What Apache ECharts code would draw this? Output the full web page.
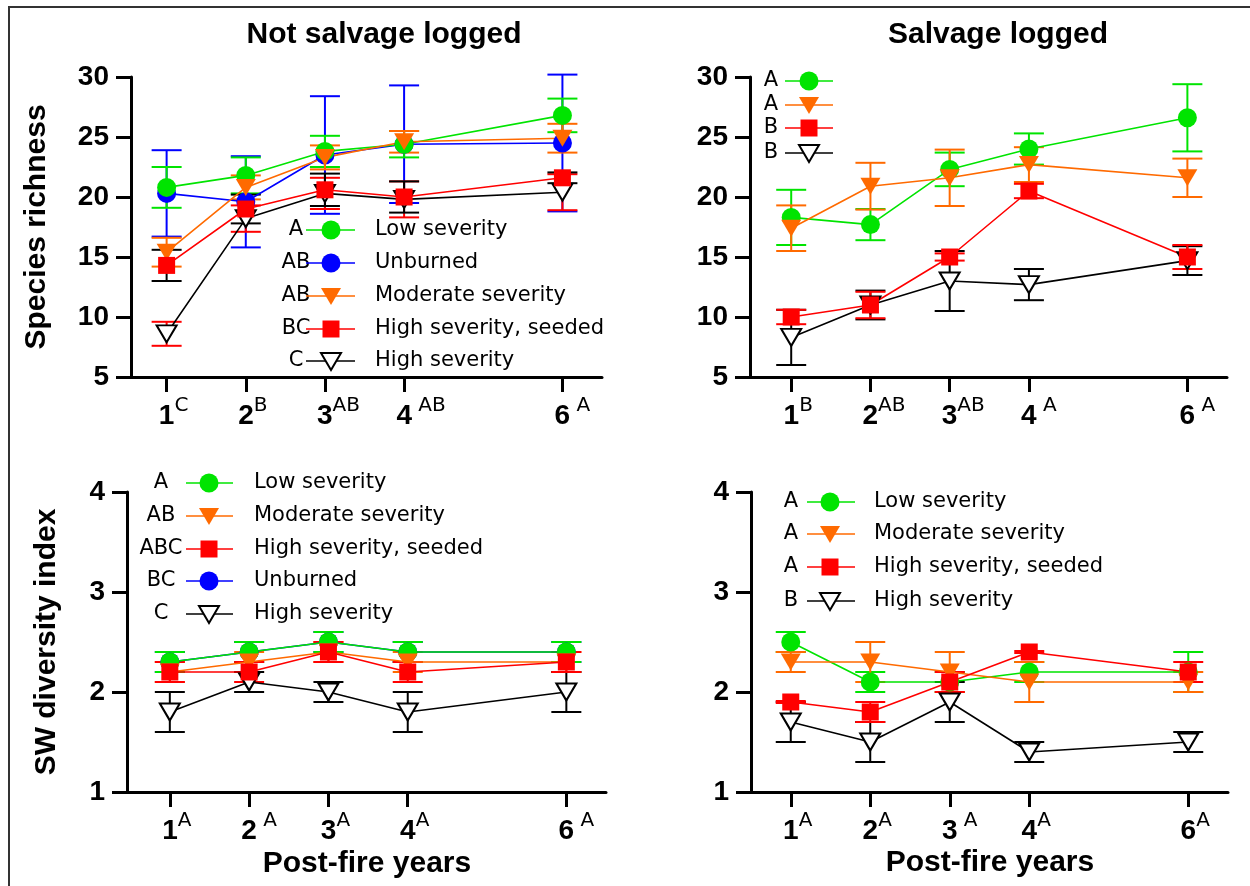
<!DOCTYPE html>
<html>
<head>
<meta charset="utf-8">
<script src="https://cdn.jsdelivr.net/npm/echarts@6/dist/echarts.min.js"></script>
<style>html,body{margin:0;padding:0;background:#fff}#c{width:1250px;height:886px}</style>
</head>
<body>
<div id="c"></div>
<script>
// ---------- data ----------
const years = [1, 2, 3, 4, 6];

// Top-left: Species richness, not salvage logged
const tlSup = ['C', 'B', 'AB', ' AB', ' A'];
const tlLowMean = [20.8, 21.8, 23.8, 24.4, 26.8];
const tlLowErr  = [1.7, 1.5, 1.3, 1.1, 1.4];
const tlUnbMean = [20.3, 19.6, 23.5, 24.4, 24.5];
const tlUnbErr  = [3.6, 3.8, 4.9, 4.9, 5.7];
const tlModMean = [15.4, 20.8, 23.3, 24.6, 24.9];
const tlModErr  = [1.2, 1.0, 1.0, 0.9, 1.2];
const tlSeedMean = [14.3, 19.0, 20.6, 20.0, 21.6];
const tlSeedErr  = [1.3, 1.2, 1.35, 1.3, 0.45];
const tlHighMean = [8.6, 18.2, 20.3, 19.8, 20.4];
const tlHighErr  = [1.0, 1.1, 1.3, 1.5, 1.5];
const tlNames   = ['Low severity', 'Unburned', 'Moderate severity', 'High severity, seeded', 'High severity'];
const tlLetters = ['A', 'AB', 'AB', 'BC', 'C'];

// Top-right: Species richness, salvage logged
const trSup = ['B', 'AB', 'AB', ' A', ' A'];
const trLowMean = [18.3, 17.7, 22.3, 24.0, 26.6];
const trLowErr  = [2.3, 1.3, 1.4, 1.3, 2.8];
const trModMean = [17.4, 20.9, 21.6, 22.7, 21.6];
const trModErr  = [1.9, 1.95, 2.35, 1.45, 1.6];
const trSeedMean = [10.0, 11.0, 15.0, 20.5, 15.0];
const trSeedErr  = [0.6, 1.1, 0.3, 0.6, 1.0];
const trHighMean = [8.3, 11.0, 13.0, 12.7, 14.7];
const trHighErr  = [2.3, 1.2, 2.5, 1.3, 1.2];
const trLetters = ['A', 'A', 'B', 'B'];

// Bottom-left: SW diversity index, not salvage logged
const blSup = ['A', ' A', 'A', 'A', ' A'];
const blLowMean = [2.3, 2.4, 2.5, 2.4, 2.4];
const blLowErr  = [0.1, 0.1, 0.1, 0.1, 0.1];
const blModMean = [2.2, 2.3, 2.4, 2.3, 2.3];
const blModErr  = [0.1, 0.1, 0.1, 0.1, 0.1];
const blSeedMean = [2.2, 2.2, 2.4, 2.2, 2.3];
const blSeedErr  = [0.1, 0.1, 0.1, 0.1, 0.1];
const blUnbMean = [2.3, 2.4, 2.5, 2.4, 2.4];
const blUnbErr  = [0.1, 0.1, 0.1, 0.1, 0.1];
const blHighMean = [1.8, 2.1, 2.0, 1.8, 2.0];
const blHighErr  = [0.2, 0.1, 0.1, 0.2, 0.2];
const blNames   = ['Low severity', 'Moderate severity', 'High severity, seeded', 'Unburned', 'High severity'];
const blLetters = ['A', 'AB', 'ABC', 'BC', 'C'];

// Bottom-right: SW diversity index, salvage logged
const brSup = ['A', 'A', ' A', 'A', 'A'];
const brLowMean = [2.5, 2.1, 2.1, 2.2, 2.2];
const brLowErr  = [0.1, 0.1, 0.1, 0.1, 0.2];
const brModMean = [2.3, 2.3, 2.2, 2.1, 2.1];
const brModErr  = [0.1, 0.2, 0.2, 0.2, 0.1];
const brSeedMean = [1.9, 1.8, 2.1, 2.4, 2.2];
const brSeedErr  = [0.01, 0.1, 0.1, 0.01, 0.1];
const brHighMean = [1.7, 1.5, 1.9, 1.4, 1.5];
const brHighErr  = [0.2, 0.2, 0.2, 0.1, 0.1];
const brNames   = ['Low severity', 'Moderate severity', 'High severity, seeded', 'High severity'];
const brLetters = ['A', 'A', 'A', 'B'];

const panelTitles = ['Not salvage logged', 'Salvage logged'];
const yNames = ['Species richness', 'SW diversity index'];
const xName = 'Post-fire years';

// ---------- styles ----------
const STY = {
  low:  { color: '#00e400', symbol: 'circle', size: 19 },
  unb:  { color: '#0000ff', symbol: 'circle', size: 19 },
  mod:  { color: '#ff6a00', symbol: 'triangle', size: [20, 17], rot: 180 },
  seed: { color: '#ff0000', symbol: 'rect', size: 17 },
  high: { color: '#000000', symbol: 'triangle', size: [20, 17], rot: 180, open: true }
};

const panels = [
  { grid: { left: 131, top: 77, width: 471, height: 300 }, xmin: 0.55, ymin: 5, ymax: 30, yint: 5, sup: tlSup,
    series: [
      { k: 'unb', m: tlUnbMean, e: tlUnbErr },
      { k: 'low', m: tlLowMean, e: tlLowErr },
      { k: 'mod', m: tlModMean, e: tlModErr },
      { k: 'high', m: tlHighMean, e: tlHighErr, ec: '#ff0000' },
      { k: 'seed', m: tlSeedMean, e: tlSeedErr, ec: '#000000' }
    ],
    legend: { keys: ['low', 'unb', 'mod', 'seed', 'high'], names: tlNames, letters: tlLetters,
      rows: [230, 263, 296, 329, 361], lx: 296, l1: 306, l2: 355, mx: 331, tx: 375 } },
  { grid: { left: 750, top: 77, width: 477, height: 300 }, xmin: 0.48, ymin: 5, ymax: 30, yint: 5, sup: trSup,
    series: [
      { k: 'low', m: trLowMean, e: trLowErr },
      { k: 'mod', m: trModMean, e: trModErr },
      { k: 'high', m: trHighMean, e: trHighErr },
      { k: 'seed', m: trSeedMean, e: trSeedErr }
    ],
    legend: { keys: ['low', 'mod', 'seed', 'high'], names: null, letters: trLetters,
      rows: [81, 105, 128, 153], lx: 771, l1: 785, l2: 833, mx: 809, tx: 0 } },
  { grid: { left: 127, top: 492, width: 479, height: 300 }, xmin: 0.46, ymin: 1, ymax: 4, yint: 1, sup: blSup,
    series: [
      { k: 'unb', m: blUnbMean, e: blUnbErr },
      { k: 'low', m: blLowMean, e: blLowErr },
      { k: 'mod', m: blModMean, e: blModErr },
      { k: 'high', m: blHighMean, e: blHighErr },
      { k: 'seed', m: blSeedMean, e: blSeedErr }
    ],
    legend: { keys: ['low', 'mod', 'seed', 'unb', 'high'], names: blNames, letters: blLetters,
      rows: [483, 516, 549, 581, 614], lx: 161, l1: 186, l2: 233, mx: 209, tx: 254 } },
  { grid: { left: 751, top: 492, width: 477, height: 300 }, xmin: 0.5, ymin: 1, ymax: 4, yint: 1, sup: brSup,
    series: [
      { k: 'low', m: brLowMean, e: brLowErr },
      { k: 'mod', m: brModMean, e: brModErr },
      { k: 'high', m: brHighMean, e: brHighErr },
      { k: 'seed', m: brSeedMean, e: brSeedErr }
    ],
    legend: { keys: ['low', 'mod', 'seed', 'high'], names: brNames, letters: brLetters,
      rows: [502, 534, 567, 601], lx: 791, l1: 807, l2: 855, mx: 830, tx: 874 } }
];

// ---------- build option ----------
const chart = echarts.init(document.getElementById('c'), null, { renderer: 'canvas' });
const grids = [], xAxes = [], yAxes = [], series = [], graphic = [];
const LEG_FONT = '21px "DejaVu Sans"';
const supW = { 'A': 13.7, 'B': 13.7, 'C': 14.0, ' ': 6.4 };

panels.forEach((p, i) => {
  grids.push(p.grid);
  const rich = {
    n: { fontSize: 28, fontWeight: 'bold', fontFamily: 'Liberation Sans', color: '#000', lineHeight: 34, verticalAlign: 'bottom' },
    s: { fontSize: 20, fontFamily: 'DejaVu Sans', color: '#000', lineHeight: 20, verticalAlign: 'top' }
  };
  p.sup.forEach((s, j) => {
    let w = 0; for (const ch of s) w += supW[ch] || 13;
    rich['w' + j] = { width: Math.round(w), lineHeight: 34, fontSize: 20 };
  });
  xAxes.push({
    gridIndex: i, type: 'value', min: p.xmin, max: 6.5,
    axisLine: { lineStyle: { color: '#000', width: 3 } },
    axisTick: { customValues: years, length: 15, lineStyle: { color: '#000', width: 3 } },
    axisLabel: {
      customValues: years, margin: 19,
      formatter: function (v) { const j = years.indexOf(v); return '{w' + j + '| }{n|' + v + '}{s|' + p.sup[j] + '}'; },
      rich: rich
    },
    splitLine: { show: false }
  });
  yAxes.push({
    gridIndex: i, type: 'value', min: p.ymin, max: p.ymax, interval: p.yint,
    axisLine: { show: true, lineStyle: { color: '#000', width: 3 } },
    axisTick: { show: true, length: 15, lineStyle: { color: '#000', width: 3 } },
    axisLabel: { fontSize: 28, fontWeight: 'bold', fontFamily: 'Liberation Sans', color: '#000', margin: 22 },
    splitLine: { show: false }
  });

  p.series.forEach((s) => {
    const st = STY[s.k];
    const ec = s.ec || st.color;
    // error bars
    series.push({
      type: 'custom', xAxisIndex: i, yAxisIndex: i, z: 1, clip: false, silent: true,
      data: years.map((y, j) => [y, s.m[j] - s.e[j], s.m[j] + s.e[j]]),
      renderItem: function (params, api) {
        const lo = api.coord([api.value(0), api.value(1)]);
        const hi = api.coord([api.value(0), api.value(2)]);
        const hw = 15;
        const style = { stroke: ec, lineWidth: 2 };
        return { type: 'group', children: [
          { type: 'line', shape: { x1: lo[0], y1: lo[1], x2: hi[0], y2: hi[1] }, style: style },
          { type: 'line', shape: { x1: lo[0] - hw, y1: lo[1], x2: lo[0] + hw, y2: lo[1] }, style: style },
          { type: 'line', shape: { x1: hi[0] - hw, y1: hi[1], x2: hi[0] + hw, y2: hi[1] }, style: style }
        ] };
      }
    });
    // mean lines + markers
    series.push({
      type: 'line', xAxisIndex: i, yAxisIndex: i, z: 3, silent: true, animation: false,
      data: years.map((y, j) => [y, s.m[j]]),
      symbol: st.symbol, symbolSize: st.size, symbolRotate: st.rot || 0, showAllSymbol: true,
      lineStyle: { color: st.color, width: 1.6 },
      itemStyle: st.open ? { color: '#ffffff', borderColor: '#000', borderWidth: 2 } : { color: st.color, borderWidth: 0 }
    });
  });

  // legend (drawn as graphic)
  const L = p.legend;
  L.keys.forEach((k, r) => {
    const st = STY[k]; const cy = L.rows[r];
    graphic.push({ type: 'text', x: L.lx, y: cy, style: { text: L.letters[r], font: LEG_FONT, fill: '#000', textAlign: 'center', textVerticalAlign: 'middle' } });
    graphic.push({ type: 'line', shape: { x1: L.l1, y1: cy, x2: L.l2, y2: cy }, style: { stroke: st.color, lineWidth: 1.6 } });
    if (st.symbol === 'circle') {
      graphic.push({ type: 'circle', shape: { cx: L.mx, cy: cy, r: 9.5 }, style: { fill: st.color } });
    } else if (st.symbol === 'rect') {
      graphic.push({ type: 'rect', shape: { x: L.mx - 8.5, y: cy - 8.5, width: 17, height: 17 }, style: { fill: st.color } });
    } else {
      graphic.push({ type: 'polygon', shape: { points: [[L.mx - 10, cy - 8], [L.mx + 10, cy - 8], [L.mx, cy + 9]] },
        style: st.open ? { fill: '#fff', stroke: '#000', lineWidth: 2 } : { fill: st.color } });
    }
    if (L.names) {
      graphic.push({ type: 'text', x: L.tx, y: cy, style: { text: L.names[r], font: LEG_FONT, fill: '#000', textAlign: 'left', textVerticalAlign: 'middle' } });
    }
  });
});

// titles and axis names
const boldFont = 'bold 30px "Liberation Sans"';
graphic.push({ type: 'text', x: 384, y: 35, style: { text: panelTitles[0], font: boldFont, fill: '#000', textAlign: 'center', textVerticalAlign: 'middle' } });
graphic.push({ type: 'text', x: 998, y: 35, style: { text: panelTitles[1], font: boldFont, fill: '#000', textAlign: 'center', textVerticalAlign: 'middle' } });
graphic.push({ type: 'text', x: 37, y: 227, rotation: Math.PI / 2, style: { text: yNames[0], font: boldFont, fill: '#000', textAlign: 'center', textVerticalAlign: 'middle' } });
graphic.push({ type: 'text', x: 47, y: 642, rotation: Math.PI / 2, style: { text: yNames[1], font: boldFont, fill: '#000', textAlign: 'center', textVerticalAlign: 'middle' } });
graphic.push({ type: 'text', x: 367, y: 864, style: { text: xName, font: boldFont, fill: '#000', textAlign: 'center', textVerticalAlign: 'middle' } });
graphic.push({ type: 'text', x: 990, y: 863, style: { text: xName, font: boldFont, fill: '#000', textAlign: 'center', textVerticalAlign: 'middle' } });
// figure frame
graphic.push({ type: 'line', shape: { x1: 8, y1: 7, x2: 1250, y2: 7 }, style: { stroke: '#333', lineWidth: 2 } });
graphic.push({ type: 'line', shape: { x1: 9, y1: 7, x2: 9, y2: 886 }, style: { stroke: '#333', lineWidth: 2 } });

chart.setOption({
  animation: false,
  backgroundColor: '#ffffff',
  grid: grids, xAxis: xAxes, yAxis: yAxes, series: series, graphic: graphic
});
</script>
</body>
</html>
